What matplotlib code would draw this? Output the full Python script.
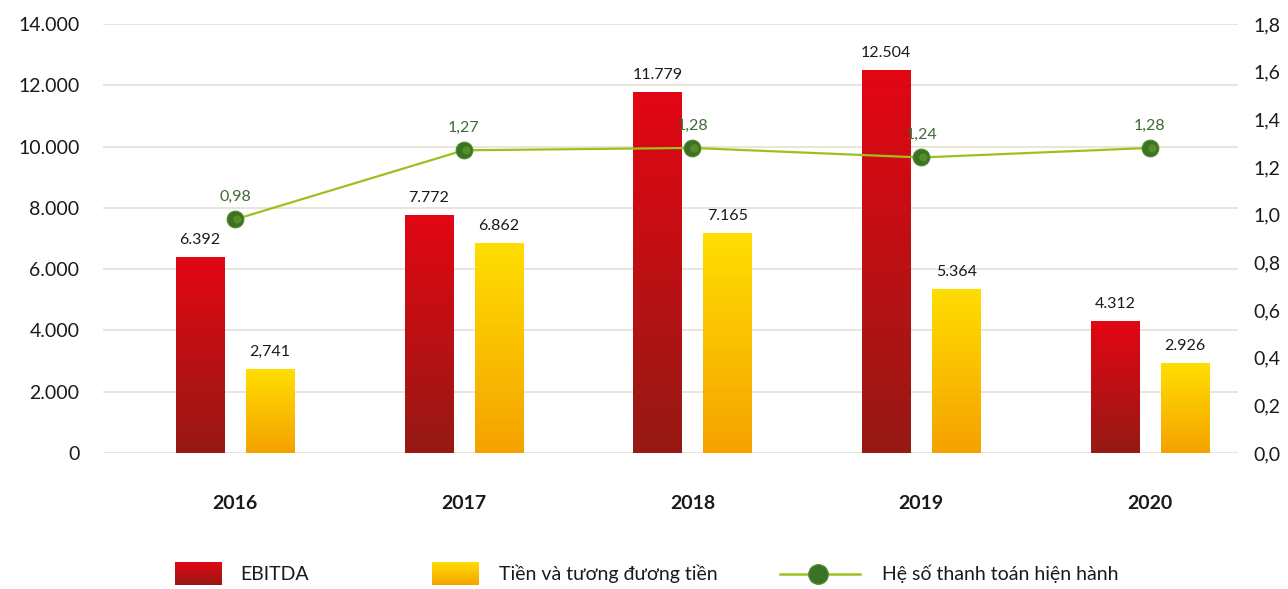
import numpy as np
import matplotlib
matplotlib.use("Agg")
import matplotlib.pyplot as plt
from matplotlib.colors import LinearSegmentedColormap
from matplotlib.lines import Line2D

plt.rcParams['font.family'] = ['Lato', 'DejaVu Sans']

years = ['2016', '2017', '2018', '2019', '2020']
ebitda = [6392, 7772, 11779, 12504, 4312]
ebitda_labels = ['6.392', '7.772', '11.779', '12.504', '4.312']
cash = [2741, 6862, 7165, 5364, 2926]
cash_labels = ['2,741', '6.862', '7.165', '5.364', '2.926']
ratio = [0.98, 1.27, 1.28, 1.24, 1.28]
ratio_labels = ['0,98', '1,27', '1,28', '1,24', '1,28']
left_ticks = [0, 2000, 4000, 6000, 8000, 10000, 12000, 14000]
left_ticklabels = ['0', '2.000', '4.000', '6.000', '8.000', '10.000', '12.000', '14.000']
right_ticks = [0.0, 0.2, 0.4, 0.6, 0.8, 1.0, 1.2, 1.4, 1.6, 1.8]
right_ticklabels = ['0,0', '0,2', '0,4', '0,6', '0,8', '1,0', '1,2', '1,4', '1,6', '1,8']
legend_labels = ['EBITDA', 'Tiền và tương đương tiền', 'Hệ số thanh toán hiện hành']

W, H = 1288, 589
fig = plt.figure(figsize=(W / 100, H / 100), dpi=100)
ax = fig.add_axes([103 / W, 1 - 453 / H, (1238 - 103) / W, (453 - 24) / H])

red_cmap = LinearSegmentedColormap.from_list('r', ['#961a15', '#e30613'])
yel_cmap = LinearSegmentedColormap.from_list('y', ['#f5a200', '#ffde00'])
grad = np.linspace(0, 1, 256).reshape(-1, 1)

x = np.arange(len(years))
bw = 0.21
off = 0.153
bars_r = ax.bar(x - off, ebitda, bw, color='none', edgecolor='none', zorder=2)
bars_y = ax.bar(x + off, cash, bw, color='none', edgecolor='none', zorder=2)

for bars, cmap in ((bars_r, red_cmap), (bars_y, yel_cmap)):
    for rect in bars:
        bx, by = rect.get_x(), rect.get_y()
        w, h = rect.get_width(), rect.get_height()
        im = ax.imshow(grad, cmap=cmap, origin='lower', aspect='auto',
                       extent=[bx, bx + w, by, by + h], zorder=2)
        im.set_clip_path(rect)

for xi, v, lab in zip(x - off, ebitda, ebitda_labels):
    ax.text(xi, v + 330, lab, ha='center', va='bottom', fontsize=11.5, color='#1a1a1a')
for xi, v, lab in zip(x + off, cash, cash_labels):
    ax.text(xi, v + 330, lab, ha='center', va='bottom', fontsize=11.5, color='#1a1a1a')

ax.set_xlim(-0.577, 4.385)
ax.set_ylim(0, 14000)
ax.set_yticks(left_ticks)
ax.set_yticklabels(left_ticklabels, fontsize=14, color='#1a1a1a')
ax.set_xticks(x)
ax.set_xticklabels(years, fontsize=14, fontweight='bold', color='#1a1a1a')
ax.tick_params(axis='x', length=0, pad=30)
ax.tick_params(axis='y', length=0, pad=17)
ax.grid(axis='y', color='#e7e3d4', linewidth=1.3, zorder=0)
ax.set_axisbelow(True)
for s in ax.spines.values():
    s.set_visible(False)

ax2 = ax.twinx()
ax2.set_ylim(0, 1.8)
ax2.set_yticks(right_ticks)
ax2.set_yticklabels(right_ticklabels, fontsize=14, color='#1a1a1a')
ax2.tick_params(axis='y', length=0, pad=11)
for s in ax2.spines.values():
    s.set_visible(False)
ax2.plot(x, ratio, color='#9cc11f', linewidth=1.6, zorder=3)
ax2.plot(x, ratio, linestyle='none', marker='o', markersize=12,
         markerfacecolor='#3a7226', markeredgecolor='#4f8a28', markeredgewidth=0.8, zorder=4)
ax2.plot(np.array(x) + 0.008, ratio, linestyle='none', marker='o', markersize=6,
         markerfacecolor='#6fa42a', markeredgecolor='none', alpha=0.55, zorder=5)
for xi, v, lab in zip(x, ratio, ratio_labels):
    ax2.text(xi, v + 0.065, lab, ha='center', va='bottom', fontsize=11.5, color='#3d6b35')

# legend
def grad_square(x0, x1, y0, y1, cmap):
    la = fig.add_axes([x0 / W, 1 - y1 / H, (x1 - x0) / W, (y1 - y0) / H])
    la.imshow(grad, cmap=cmap, origin='lower', aspect='auto')
    la.axis('off')

grad_square(175, 222, 562, 585, red_cmap)
grad_square(432, 479, 562, 585, yel_cmap)
fig.text(240 / W, 1 - 574 / H, legend_labels[0], fontsize=14, va='center', ha='left', color='#1a1a1a')
fig.text(499 / W, 1 - 574 / H, legend_labels[1], fontsize=14, va='center', ha='left', color='#1a1a1a')
fig.lines.append(Line2D([780 / W, 860 / W], [1 - 574 / H, 1 - 574 / H], transform=fig.transFigure,
                        color='#9cc11f', linewidth=1.8))
fig.lines.append(Line2D([818 / W], [1 - 574 / H], transform=fig.transFigure, marker='o', markersize=14,
                        markerfacecolor='#3a7226', markeredgecolor='#4f8a28', linestyle='none'))
fig.text(882 / W, 1 - 574 / H, legend_labels[2], fontsize=14, va='center', ha='left', color='#1a1a1a')

fig.savefig('out.png', dpi=100)
